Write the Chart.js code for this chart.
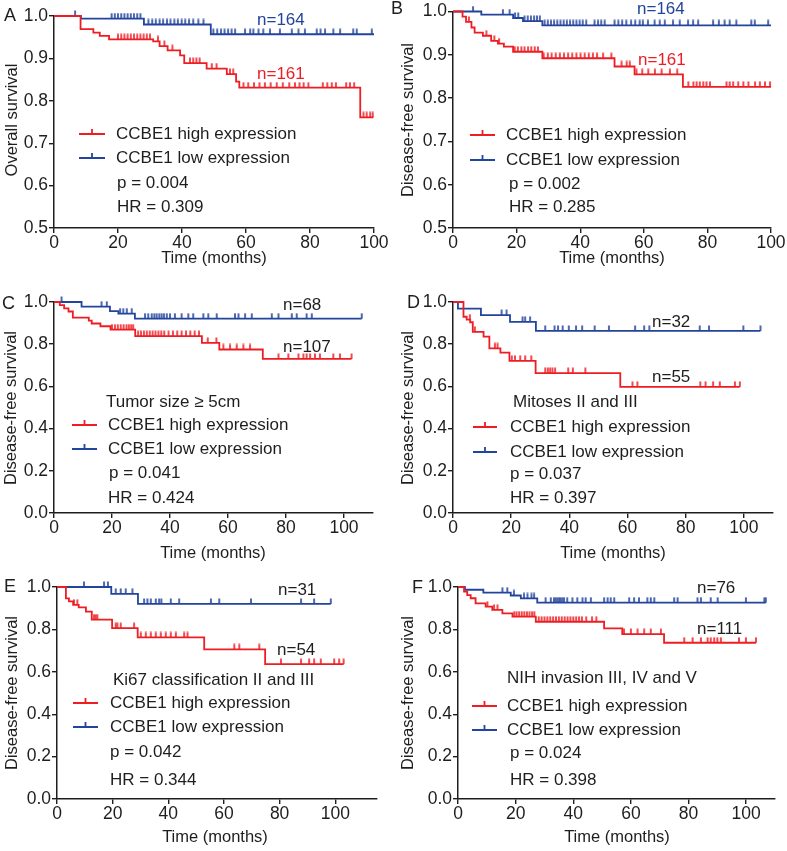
<!DOCTYPE html>
<html>
<head>
<meta charset="utf-8">
<script src="https://cdn.jsdelivr.net/npm/chart.js@4.4.1/dist/chart.umd.min.js"></script>
<style>
  body { margin: 0; background: #fff; width: 787px; height: 851px; position: relative; overflow: hidden; }
  canvas { position: absolute; }
</style>
</head>
<body>
<script>
// ---- tick labels ----
var timeTicks = [0, 20, 40, 60, 80, 100];
var survTicksTop = [0.5, 0.6, 0.7, 0.8, 0.9, 1.0];
var survTicksFull = [0, 0.2, 0.4, 0.6, 0.8, 1.0];

// ---- A: overall survival (step times, survival, censored times) ----
var aHighT = [0, 8.3, 12.3, 14.3, 17.2, 31, 33, 35.5, 39.4, 40.7, 47.7, 54, 56.9, 57.9, 95.7, 99.8];
var aHighS = [1, 0.969, 0.961, 0.953, 0.945, 0.94, 0.929, 0.919, 0.907, 0.889, 0.876, 0.863, 0.845, 0.831, 0.761, 0.761];
var aHighC = [20, 21, 22, 23, 24, 25, 26, 27, 28, 29, 30, 32.5, 34.5, 37, 42.5, 43.5, 44.5, 45.5, 49.3, 50.8, 55, 56,
  59.2, 60.7, 62.5, 64.2, 65.9, 67.7, 69.6, 71.5, 73.5, 75.3, 76.7, 78, 79.5, 84, 85.4, 86.8, 88.1, 91.3, 92.5, 93.8,
  96.7, 97.7, 98.8, 99.6];
var aLowT = [0, 8.4, 28.1, 49, 100];
var aLowS = [1, 0.994, 0.98, 0.957, 0.957];
var aLowC = [6.6, 18, 19, 20, 21, 22, 23, 24, 25, 26, 27, 29.5, 30.7, 31.8, 33, 34.1, 35.3, 36.4, 37.6, 38.7, 39.9, 41,
  42.2, 43.5, 45.1, 46.7, 49.8, 51, 52.2, 53.3, 54.4, 55.5, 56.6, 59.7, 61.3, 62.3, 63.9, 65.4, 67.5, 70.6, 74.3, 76.4,
  78.4, 82.1, 83.3, 84.7, 87.3, 89.4, 93.5, 94.6, 99.3];

// ---- B: disease-free survival ----
var bHighT = [0, 3, 4.1, 5.8, 6.8, 9.4, 12, 14.1, 16, 18.9, 28.1, 50.8, 57.1, 72.3, 100];
var bHighS = [1, 0.988, 0.976, 0.963, 0.951, 0.944, 0.932, 0.926, 0.919, 0.907, 0.892, 0.873, 0.855, 0.826, 0.826];
var bHighC = [5, 10.5, 13, 14.5, 19.4, 20.4, 21.5, 22.5, 23.6, 24.6, 25.7, 26.7, 28.5, 29.8, 31, 32.3, 33.6, 34.9, 36.2,
  37.5, 38.8, 40.1, 41.4, 42.7, 44, 45.3, 47.2, 49.8, 53, 54.6, 55.6, 57.7, 59.5, 61.4, 63.5, 65.6, 68.2, 70.5, 74, 75.6,
  76.6, 77.6, 78.7, 79.7, 80.8, 86, 87, 88.1, 89.7, 91.3, 92.9, 95, 96.5, 98.1, 99.7];
var bLowT = [0, 8.9, 18.9, 22, 28.1, 100];
var bLowS = [1, 0.993, 0.985, 0.978, 0.968, 0.968];
var bLowC = [6.3, 15.7, 17.8, 19.5, 20.5, 22.5, 23.5, 24.5, 25.5, 26.4, 27.3, 28.8, 29.8, 30.8, 31.8, 32.8, 33.8, 34.8,
  35.8, 36.8, 37.8, 38.8, 39.8, 40.8, 41.9, 44.5, 45.6, 46.6, 47.7, 50.8, 52, 53.2, 54.5, 56, 57.3, 58.7, 59.7, 61.3,
  63.4, 65, 66.6, 69.2, 71.3, 73.9, 75.5, 77.1, 81.8, 83.6, 85.4, 87, 89.1, 93.8, 94.9, 99.1];

// ---- C: tumor size >= 5cm ----
var cHighT = [0, 2, 3.5, 5, 6.5, 12, 13, 16, 19.5, 28, 51, 57, 72, 102.6];
var cHighS = [1, 0.985, 0.97, 0.955, 0.926, 0.912, 0.898, 0.885, 0.869, 0.838, 0.806, 0.775, 0.73, 0.73];
var cHighC = [20, 21, 22, 23, 24, 25, 25.8, 26.6, 27.3, 29, 30, 31, 32, 33, 34, 35, 36, 37, 38, 39.5, 41, 42.5, 44, 45.5,
  47, 48.5, 50, 53, 56, 58.4, 60.7, 63, 65.3, 67.6, 77.4, 80.8, 84.3, 86, 87.1, 88.3, 90, 91.7, 96.3, 98.6, 102.6];
var cLowT = [0, 9.5, 19.3, 22.2, 27.9, 106.1];
var cLowS = [1, 0.978, 0.957, 0.945, 0.921, 0.921];
var cLowC = [2.6, 16.4, 18.2, 22.8, 23.9, 25.1, 26.8, 31.4, 32.5, 33.7, 34.6, 35.4, 36.3, 37.1, 37.9, 38.9, 40, 41.7,
  44, 46.3, 48, 51.5, 53.2, 56.1, 62.4, 63.6, 65.9, 68.2, 75.1, 77.4, 82, 83.7, 87.1, 88.9, 106.1];

// ---- D: mitoses II and III ----
var dHighT = [0, 3.6, 4.7, 5.9, 6.8, 10.5, 12.5, 16.3, 19.4, 28.4, 57.5, 98.6];
var dHighS = [1, 0.93, 0.916, 0.904, 0.858, 0.836, 0.78, 0.76, 0.721, 0.663, 0.598, 0.598];
var dHighC = [5.8, 7.5, 14.4, 15.3, 20.2, 21.3, 23.1, 24.8, 26.9, 31.7, 32.6, 33.4, 34.2, 35.1, 39.6, 41.2, 45.5, 61.7,
  63.4, 85, 86.8, 89.4, 91.7, 96.9, 98.6];
var dLowT = [0, 1.7, 9.6, 19.6, 28.5, 105.7];
var dLowS = [1, 0.969, 0.938, 0.906, 0.863, 0.863];
var dLowC = [16.7, 18.4, 23.9, 24.8, 26.5, 31.7, 34.9, 36.1, 37.7, 39.8, 42.3, 44.4, 48.7, 53.6, 62.6, 65.7, 67.5, 84.8,
  88, 99.8, 105.7];

// ---- E: Ki67 classification II and III ----
var eHighT = [0, 3.2, 4.3, 5.8, 7.8, 10.4, 12.5, 19.8, 29, 52.9, 74.8, 103];
var eHighS = [1, 0.946, 0.932, 0.916, 0.904, 0.884, 0.846, 0.806, 0.762, 0.706, 0.636, 0.636];
var eHighC = [6.1, 7.3, 13.3, 13.9, 14.5, 21.1, 21.7, 22.9, 27.7, 30.1, 31.9, 33.7, 35.5, 37.3, 39.1, 40.9, 42.7, 45.7,
  46.9, 63.7, 65.5, 72.7, 80.5, 87.7, 90.6, 92.4, 94.8, 99.6, 101.4, 103];
var eLowT = [0, 19.5, 29.1, 98.4];
var eLowS = [1, 0.968, 0.92, 0.92];
var eLowC = [9.7, 16.9, 18.3, 21.1, 22.9, 24.7, 27.1, 31.3, 32.5, 33.7, 35.5, 36.7, 37.5, 40.9, 43.9, 55.3, 58.3, 69.7,
  87.7, 92.4, 98.4];

// ---- F: NIH invasion III, IV and V ----
var fHighT = [0, 2.1, 3.2, 4.4, 6.1, 9.6, 11.9, 15.4, 18.9, 27, 50.7, 57, 71.5, 103.4];
var fHighS = [1, 0.978, 0.962, 0.947, 0.923, 0.907, 0.892, 0.876, 0.86, 0.836, 0.805, 0.778, 0.737, 0.737];
var fHighC = [10.2, 12.5, 13.7, 19.5, 20.3, 21.2, 22.1, 23, 23.9, 24.8, 25.7, 26.5, 28, 29, 30, 31, 32, 33, 34, 35, 36,
  37, 38, 39, 40, 41, 42, 43, 44.5, 46.5, 48, 57.6, 60, 62.3, 64.6, 66.9, 70.4, 78.5, 81.4, 84.3, 86.6, 87.7, 88.9, 90,
  91.2, 97.5, 99.9, 103.4];
var fLowT = [0, 2.4, 8.8, 18.3, 21.8, 27.5, 106.8];
var fLowS = [1, 0.987, 0.973, 0.96, 0.946, 0.926, 0.926];
var fLowC = [15.4, 17.1, 19.4, 22.9, 24.1, 25.5, 26.4, 30.4, 32.2, 33.3, 33.9, 34.5, 35.1, 35.6, 36.2, 36.8, 37.9, 39.7,
  41.4, 43.2, 44.3, 46.1, 50.7, 51.9, 53, 54.2, 59.4, 61.1, 62.8, 65.7, 66.9, 68.1, 75, 76.2, 83.1, 84.3, 87.7, 90.1,
  99.9, 106.3, 106.8];

var ink = '#1e1e1e';
var red = '#ee1d23';
var blue = '#22449c';
var FONT = '"Liberation Sans", Arial, Helvetica, sans-serif';

function stepAt(times, surv, t) {
  var v = surv[0];
  for (var i = 0; i < times.length; i++) {
    if (times[i] <= t) v = surv[i];
  }
  return v;
}

// small upward tick used as the censor mark
function tickImg(color) {
  var c = document.createElement('canvas');
  c.width = 4; c.height = 12;
  var g = c.getContext('2d');
  g.fillStyle = color;
  g.fillRect(1.2, 0.5, 1.6, 5.5);
  return c;
}
var redTick = tickImg(red), blueTick = tickImg(blue);

// layout of the six panels (page pixels)
var panels = [
  { letter: 'A', cv: {x: 0, y: 0, w: 392, h: 275}, area: {l: 54, r: 374, t: 16, b: 228}, xMax: 100, yMin: 0.5, yTicks: survTicksTop,
    yTitle: 'Overall survival', letterPos: [4, 16], yTitlePos: [12, 120], xTitlePos: [214, 258],
    nLow: ['n=164', 257, 20], nHigh: ['n=161', 257, 74], nColored: true, sub: null,
    leg: {x1: 79, x2: 105, tx: 116, y1: 134, y2: 158}, p: ['p = 0.004', 117, 183], hr: ['HR = 0.309', 117, 207],
    high: [aHighT, aHighS, aHighC], low: [aLowT, aLowS, aLowC] },
  { letter: 'B', cv: {x: 388, y: 0, w: 399, h: 275}, area: {l: 453, r: 771, t: 9.5, b: 228}, xMax: 100, yMin: 0.5, yTicks: survTicksTop,
    yTitle: 'Disease-free survival', letterPos: [391, 9], yTitlePos: [408, 120], xTitlePos: [612, 258],
    nLow: ['n=164', 637, 9], nHigh: ['n=161', 638, 60], nColored: true, sub: null,
    leg: {x1: 470, x2: 495, tx: 506, y1: 135, y2: 160}, p: ['p = 0.002', 509, 184], hr: ['HR = 0.285', 509, 207],
    high: [bHighT, bHighS, bHighC], low: [bLowT, bLowS, bLowC] },
  { letter: 'C', cv: {x: 0, y: 275, w: 392, h: 290}, area: {l: 54, r: 373, t: 302, b: 513}, xMax: 110, yMin: 0, yTicks: survTicksFull,
    yTitle: 'Disease-free survival', letterPos: [2, 304], yTitlePos: [11, 408], xTitlePos: [213, 553],
    nLow: ['n=68', 283, 305], nHigh: ['n=107', 283, 347], nColored: false, sub: ['Tumor size \u2265 5cm', 106, 402],
    leg: {x1: 72, x2: 97, tx: 108, y1: 425, y2: 449}, p: ['p = 0.041', 109, 473], hr: ['HR = 0.424', 108, 498],
    high: [cHighT, cHighS, cHighC], low: [cLowT, cLowS, cLowC] },
  { letter: 'D', cv: {x: 388, y: 275, w: 399, h: 290}, area: {l: 453, r: 773, t: 302, b: 513}, xMax: 110, yMin: 0, yTicks: survTicksFull,
    yTitle: 'Disease-free survival', letterPos: [407, 303], yTitlePos: [408, 408], xTitlePos: [613, 553],
    nLow: ['n=32', 652, 322], nHigh: ['n=55', 652, 377], nColored: false, sub: ['Mitoses II and III', 513, 402],
    leg: {x1: 473, x2: 497, tx: 510, y1: 427, y2: 452}, p: ['p = 0.037', 510, 474], hr: ['HR = 0.397', 510, 498],
    high: [dHighT, dHighS, dHighC], low: [dLowT, dLowS, dLowC] },
  { letter: 'E', cv: {x: 0, y: 565, w: 392, h: 286}, area: {l: 57, r: 377, t: 587, b: 799}, xMax: 115, yMin: 0, yTicks: survTicksFull,
    yTitle: 'Disease-free survival', letterPos: [4, 587], yTitlePos: [12, 693], xTitlePos: [215, 837],
    nLow: ['n=31', 278, 590], nHigh: ['n=54', 277, 650], nColored: false, sub: ['Ki67 classification II and III', 113, 680],
    leg: {x1: 73, x2: 98, tx: 110, y1: 703, y2: 727}, p: ['p = 0.042', 110, 752], hr: ['HR = 0.344', 110, 780],
    high: [eHighT, eHighS, eHighC], low: [eLowT, eLowS, eLowC] },
  { letter: 'F', cv: {x: 388, y: 565, w: 399, h: 286}, area: {l: 458, r: 775, t: 587, b: 799}, xMax: 110, yMin: 0, yTicks: survTicksFull,
    yTitle: 'Disease-free survival', letterPos: [412, 588], yTitlePos: [408, 693], xTitlePos: [617, 837],
    nLow: ['n=76', 697, 588], nHigh: ['n=111', 697, 629], nColored: false, sub: ['NIH invasion III, IV and V', 507, 678],
    leg: {x1: 472, x2: 497, tx: 507, y1: 706, y2: 730}, p: ['p = 0.024', 510, 753], hr: ['HR = 0.398', 510, 780],
    high: [fHighT, fHighS, fHighC], low: [fLowT, fLowS, fLowC] }
];

var annotPlugin = {
  id: 'annot',
  afterDraw: function (chart, args, o) {
    var p = o.panel, ctx = chart.ctx;
    ctx.save();
    ctx.translate(-p.cv.x, -p.cv.y);
    ctx.textBaseline = 'middle';
    function txt(s, x, y, size, color, align) {
      ctx.font = size + 'px ' + FONT;
      ctx.fillStyle = color;
      ctx.textAlign = align || 'left';
      ctx.fillText(s, x, y);
    }
    txt(p.letter, p.letterPos[0], p.letterPos[1], 18, ink);
    ctx.save();
    ctx.translate(p.yTitlePos[0], p.yTitlePos[1]);
    ctx.rotate(-Math.PI / 2);
    txt(p.yTitle, 0, 0, 16.5, ink, 'center');
    ctx.restore();
    txt('Time (months)', p.xTitlePos[0], p.xTitlePos[1], 16.5, ink, 'center');
    txt(p.nLow[0], p.nLow[1], p.nLow[2], 17, p.nColored ? blue : ink);
    txt(p.nHigh[0], p.nHigh[1], p.nHigh[2], 17, p.nColored ? red : ink);
    if (p.sub) txt(p.sub[0], p.sub[1], p.sub[2], 17, ink);
    // legend samples
    var L = p.leg, mid = (L.x1 + L.x2) / 2;
    [[red, L.y1], [blue, L.y2]].forEach(function (s) {
      ctx.strokeStyle = s[0];
      ctx.lineWidth = 1.8;
      ctx.beginPath();
      ctx.moveTo(L.x1, s[1]); ctx.lineTo(L.x2, s[1]);
      ctx.moveTo(mid, s[1]); ctx.lineTo(mid, s[1] - 5);
      ctx.stroke();
    });
    txt('CCBE1 high expression', L.tx, L.y1, 17, ink);
    txt('CCBE1 low expression', L.tx, L.y2, 17, ink);
    txt(p.p[0], p.p[1], p.p[2], 17, ink);
    txt(p.hr[0], p.hr[1], p.hr[2], 17, ink);
    ctx.restore();
  }
};

function curve(g, color) {
  return {
    data: g[0].map(function (t, i) { return {x: t, y: g[1][i]}; }),
    stepped: 'before', borderColor: color, borderWidth: 1.8, pointRadius: 0, fill: false, clip: false
  };
}
function censors(g, img) {
  return {
    data: g[2].map(function (t) { return {x: t, y: stepAt(g[0], g[1], t)}; }),
    showLine: false, pointStyle: img, pointRadius: 5, clip: false
  };
}

panels.forEach(function (p) {
  var cv = document.createElement('canvas');
  cv.width = p.cv.w; cv.height = p.cv.h;
  cv.style.left = p.cv.x + 'px'; cv.style.top = p.cv.y + 'px';
  document.body.appendChild(cv);
  var a = p.area;
  var tickFont = {family: FONT, size: 17.5};
  new Chart(cv.getContext('2d'), {
    type: 'line',
    data: {
      datasets: [
        curve(p.high, red), censors(p.high, redTick),
        curve(p.low, blue), censors(p.low, blueTick)
      ]
    },
    options: {
      responsive: false,
      animation: false,
      events: [],
      layout: { padding: { left: 0, top: a.t - p.cv.y, right: p.cv.x + p.cv.w - a.r, bottom: p.cv.y + p.cv.h - a.b - 30 } },
      plugins: { legend: { display: false }, tooltip: { enabled: false }, annot: { panel: p } },
      scales: {
        x: {
          type: 'linear', min: 0, max: p.xMax,
          afterBuildTicks: function (s) { s.ticks = timeTicks.map(function (v) { return {value: v}; }); },
          afterFit: function (s) { s.height = 30; },
          ticks: { font: tickFont, color: ink, padding: 0, maxRotation: 0 },
          grid: { drawOnChartArea: false, drawTicks: true, tickLength: 5, color: ink, lineWidth: 1.4 },
          border: { color: ink, width: 1.5 }
        },
        y: {
          min: p.yMin, max: 1,
          afterBuildTicks: function (s) { s.ticks = p.yTicks.map(function (v) { return {value: v}; }); },
          afterFit: function (s) { s.width = a.l - p.cv.x; },
          ticks: { font: tickFont, color: ink, padding: 1, callback: function (v) { return v.toFixed(1); } },
          grid: { drawOnChartArea: false, drawTicks: true, tickLength: 5, color: ink, lineWidth: 1.4 },
          border: { color: ink, width: 1.5 }
        }
      }
    },
    plugins: [annotPlugin]
  });
});
</script>
</body>
</html>
